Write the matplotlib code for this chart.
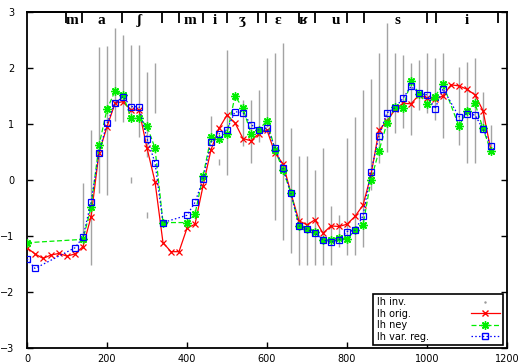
import matplotlib
matplotlib.use("Agg")
import matplotlib.pyplot as plt
from matplotlib.lines import Line2D

# ---------------- data ----------------
orig_x = list(range(0, 1161, 20))
orig_y = [-1.21, -1.32, -1.40, -1.34, -1.31, -1.36, -1.32, -1.19, -0.66, 0.49,
          0.95, 1.37, 1.40, 1.25, 1.25, 0.57, -0.03, -1.12, -1.28, -1.28,
          -0.86, -0.79, -0.11, 0.54, 0.92, 1.16, 1.02, 0.74, 0.70, 0.83,
          0.89, 0.48, 0.29, -0.24, -0.73, -0.80, -0.71, -0.95, -0.82, -0.83,
          -0.79, -0.65, -0.45, 0.09, 0.89, 1.05, 1.26, 1.37, 1.36, 1.52,
          1.46, 1.44, 1.50, 1.70, 1.68, 1.62, 1.52, 1.24, 0.52]

ney_x = [0, 140, 160, 180, 200, 220, 240, 260, 280, 300, 320, 340,
         400, 420, 440, 460, 480, 500, 520, 540, 560, 580, 600, 620, 640,
         660, 680, 700, 720, 740, 760, 780, 800, 820, 840, 860, 880, 900,
         920, 940, 960, 980, 1000, 1020, 1040, 1080, 1100, 1120, 1140, 1160]
ney_y = [-1.12, -1.06, -0.49, 0.62, 1.26, 1.59, 1.52, 1.11, 1.11, 0.96, 0.57, -0.76,
         -0.76, -0.61, 0.07, 0.76, 0.74, 0.82, 1.50, 1.28, 0.83, 0.90, 1.06, 0.54, 0.18,
         -0.24, -0.82, -0.88, -0.92, -1.08, -1.07, -1.04, -1.05, -0.90, -0.80, 0.00, 0.52, 1.02,
         1.30, 1.28, 1.77, 1.54, 1.36, 1.49, 1.71, 0.96, 1.24, 1.37, 0.92, 0.51]

vr_x = [0, 20, 120, 140, 160, 180, 200, 220, 240, 260, 280, 300, 320, 340,
        400, 420, 440, 460, 480, 500, 520, 540, 560, 580, 600, 620, 640,
        660, 680, 700, 720, 740, 760, 780, 800, 820, 840, 860, 880, 900,
        920, 940, 960, 980, 1000, 1020, 1040, 1080, 1100, 1120, 1140, 1160]
vr_y = [-1.41, -1.58, -1.21, -1.02, -0.40, 0.49, 1.01, 1.37, 1.49, 1.31, 1.31, 0.74, 0.31, -0.76,
        -0.63, -0.40, 0.01, 0.67, 0.82, 0.90, 1.22, 1.20, 0.99, 0.89, 0.93, 0.58, 0.21,
        -0.24, -0.82, -0.88, -0.95, -1.07, -1.11, -1.07, -0.92, -0.90, -0.64, 0.15, 0.79, 1.20,
        1.29, 1.46, 1.67, 1.56, 1.52, 1.27, 1.63, 1.13, 1.18, 1.16, 0.91, 0.61]

# inversion clouds: vertical extent at each frame
inv_x = [140, 160, 180, 200, 220, 240, 260, 260, 280, 300, 300, 320,
         460, 480, 500, 540, 560, 580, 600, 620, 640, 660, 680, 700, 720,
         740, 760, 780, 800, 820, 840, 860, 880, 900, 920, 940, 960, 980,
         1000, 1020, 1040, 1080, 1100, 1120, 1140, 1160]
inv_lo = [-1.10, -1.52, -0.23, -0.27, 1.05, 1.04, 1.07, -0.05, 0.77, 0.41, -0.68, 1.20,
          0.75, 0.27, 0.09, 0.60, 0.30, 0.68, 0.95, -0.71, -1.07, -1.31, -1.52, -1.52, -1.52,
          -1.52, -1.52, -1.19, -1.34, -1.34, -1.19, -0.18, 0.30, 0.50, 0.84, 0.93, 0.80, 1.25,
          1.19, 1.07, 0.75, 0.62, 0.30, 0.30, 0.89, 0.50]
inv_hi = [-0.05, 0.89, 2.38, 2.40, 2.71, 2.59, 2.41, 0.05, 2.41, 1.92, -0.58, 2.09,
          1.14, 0.37, 2.32, 1.43, 1.43, 1.60, 2.18, 2.26, 2.44, 0.93, 0.42, 0.42, 0.18,
          0.57, -0.46, -0.63, 0.75, 1.13, 1.60, 1.80, 2.26, 2.80, 2.26, 2.23, 2.09, 2.14,
          2.26, 2.18, 2.26, 2.02, 2.10, 2.18, 1.57, 0.98]

phonemes = ["m", "a", "ʃ", "m", "i", "ʒ", "ɛ", "ʁ", "u", "s", "i"]
phon_pos = [112, 187, 280, 407, 470, 537, 627, 690, 772, 927, 1100]
bounds = [97.5, 137.5, 237.5, 337.5, 380, 440, 500, 577.5, 597.5, 680,
          720, 800, 842.5, 1000, 1022.5, 1177.5]

x_ticks = [0, 200, 400, 600, 800, 1000, 1200]
y_ticks = [-3, -2, -1, 0, 1, 2, 3]
labels = ["lh inv.", "lh orig.", "lh ney", "lh var. reg."]

# ---------------- plot ----------------
fig = plt.figure(figsize=(5.18, 3.63), dpi=100)
ax = fig.add_axes([27 / 518, 15 / 363, 480 / 518, 336 / 363])

ax.vlines(inv_x, inv_lo, inv_hi, colors="#a3a3a3", linewidth=1.0, zorder=1)

ax.plot(orig_x, orig_y, color="#ff0000", linestyle="-", linewidth=0.9,
        marker="x", markersize=5, markeredgewidth=0.9, zorder=3)
ax.plot(ney_x, ney_y, color="#00ee00", linestyle=(0, (4, 2)), linewidth=0.9,
        marker=(8, 2, 0), markersize=6, markeredgewidth=1.0, zorder=3)
ax.plot(vr_x, vr_y, color="#0000ff", linestyle=(0, (1.2, 1.8)), linewidth=0.9,
        marker="s", markersize=5, markerfacecolor="none", markeredgewidth=0.9, zorder=4)

ax.set_xlim(0, 1200)
ax.set_ylim(-3, 3)
ax.set_xticks(x_ticks)
ax.set_yticks(y_ticks)
ax.tick_params(direction="in", length=4, width=1, labelsize=7,
               top=False, right=True, bottom=True, left=True)
ax.tick_params(axis="y", pad=9)
ax.tick_params(axis="x", pad=4)
for s in ax.spines.values():
    s.set_linewidth(1.3)

sec = ax.secondary_xaxis("top")
sec.set_xticks(bounds)
sec.set_xticklabels([])
sec.tick_params(direction="in", length=8, width=1.3)
sec.spines["top"].set_linewidth(1.3)

for p, t in zip(phon_pos, phonemes):
    ax.text(p, 2.84, t, ha="center", va="center", fontsize=11, fontweight="bold",
            family=["Liberation Serif", "DejaVu Serif"], zorder=5)

handles = [
    Line2D([], [], color="#9a9a9a", marker=".", markersize=1.5, linestyle="none"),
    Line2D([], [], color="#ff0000", linestyle="-", marker="x", markersize=5, linewidth=0.9),
    Line2D([], [], color="#00ee00", linestyle=(0, (4, 2)), marker=(8, 2, 0), markersize=6, linewidth=0.9),
    Line2D([], [], color="#0000ff", linestyle=(0, (1.2, 1.8)), marker="s", markersize=5,
           markerfacecolor="none", linewidth=0.9),
]
leg = ax.legend(handles, labels, loc="lower right", bbox_to_anchor=(0.992, 0.009),
                borderaxespad=0, markerfirst=False, fontsize=7, frameon=True,
                fancybox=False, edgecolor="black", framealpha=1, handlelength=3.0,
                handletextpad=4.3, labelspacing=0.15, borderpad=0.35, numpoints=1)
leg.get_frame().set_linewidth(1.2)

# left-align the labels, keep samples at the right edge
try:
    for col in leg._legend_handle_box.get_children():
        col.align = "left"
        for item in col.get_children():
            item.mode = "expand"
            item.width = 123
except Exception:
    pass

fig.savefig("out.png", dpi=100)
